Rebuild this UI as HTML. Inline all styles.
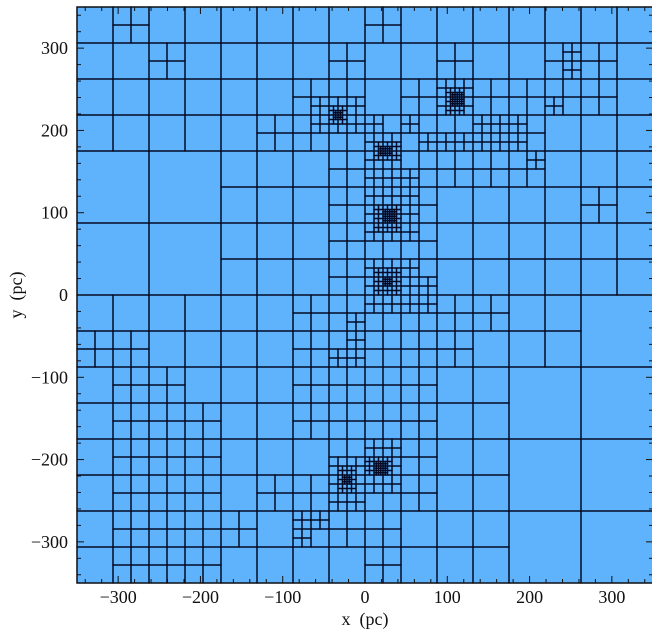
<!DOCTYPE html>
<html>
<head>
<meta charset="utf-8">
<style>
  html,body{margin:0;padding:0;background:#fff;}
  svg{display:block;}
  text{font-family:"Liberation Serif","DejaVu Serif",serif;font-size:18px;fill:#111;}
</style>
</head>
<body>
<svg id="chart" width="652" height="636" viewBox="0 0 652 636" xmlns="http://www.w3.org/2000/svg">
  <rect x="77" y="7" width="576" height="576" fill="#5fb3fd"/>
  <g id="cells"></g>
  <g id="axes"></g>
  <text x="365" y="625" text-anchor="middle" xml:space="preserve">x  (pc)</text>
  <text x="22" y="295" text-anchor="middle" transform="rotate(-90 22 295)" xml:space="preserve">y  (pc)</text>
</svg>
<script>
// ---- data ----
const xTicks = [-300, -200, -100, 0, 100, 200, 300];
const yTicks = [-300, -200, -100, 0, 100, 200, 300];
const domainMin = -350;
const domainMax = 350;
// level-3 cells left unrefined (a point inside each)
const coarseX = [-306, -219, -306, -219, 306, 219, 306, 219, 306, 219, 306];
const coarseY = [131, 131, 44, 44, -44, -131, -131, -219, -219, -306, -306];
// level-5 refinement regions [x0, x1, y0, y1]
const level5Regions = [
  [-306,-262.5,306,350],[-262.5,-219,262.5,306],[-131,-87.5,175,219],[-87.5,0,175,262.5],
  [-44,0,262.5,306],[0,44,306,350],[-44,219,131,219],[-44,87.5,0,131],
  [219,306,219,306],[175,219,219,262.5],[44,175,219,262.5],[87.5,131,262.5,306],
  [262.5,306,87.5,131],[-87.5,131,-87.5,0],[-87.5,87.5,-175,-87.5],
  [-350,-262.5,-87.5,-44],[-306,-219,-131,-87.5],[-306,-175,-350,-131],[-175,-131,-306,-262.5],
  [-131,-87.5,-262.5,-219],[-87.5,-44,-306,-219],[-44,0,-306,-262.5],[-44,87.5,-262.5,-131],
  [0,44,-350,-262.5],[131,175,-44,0]
];
// level-6 refinement points
const l6X = [-6,61,83,119,136,148,16,27,61,18,39,46,109,122,154,158,192,192,203,225,73,6,70,-6,-16,-16,-16,-28,39,39,-4,-4,-16,-49,-58,244,255,252,6,22,-67,-77];
const l6Y = [198,203,180,185,180,213,160,143,148,136,79,83,194,192,203,182,204,192,170,235,6,6,-6,-28,-39,-61,-79,-81,-192,-203,-237,-249,-258,-270,-280,289,276,267,203,137,-280,-286];
// dense cluster centres (level 8)
const clusterX = [-32, 111, 26, 30, 28, -22, 18];
const clusterY = [219, 238, 175, 96, 16, -224, -210];

// ---- axis functions ----
const X0 = 77, Y0 = 7, W = 576, H = 576;
function sx(v){ return X0 + (v - domainMin) * W / (domainMax - domainMin); }
function sy(v){ return Y0 + (domainMax - v) * H / (domainMax - domainMin); }

const NS = "http://www.w3.org/2000/svg";
const cellsG = document.getElementById("cells");
const axesG = document.getElementById("axes");
const eps = 2;

function inside(px, py, x0, x1, y0, y1, m){
  return px > x0 - m && px < x1 + m && py > y0 - m && py < y1 + m;
}
function shouldSplit(x0, x1, y0, y1, level){
  if (level < 3) return true;
  const size = x1 - x0;
  if (level === 3){
    for (let i = 0; i < coarseX.length; i++){
      if (inside(coarseX[i], coarseY[i], x0, x1, y0, y1, 0)) return false;
    }
    return true;
  }
  if (level === 4){
    for (const r of level5Regions){
      if (x0 < r[1] - eps && x1 > r[0] + eps && y0 < r[3] - eps && y1 > r[2] + eps) return true;
    }
  }
  if (level <= 5){
    for (let i = 0; i < l6X.length; i++){
      if (inside(l6X[i], l6Y[i], x0, x1, y0, y1, 0)) return true;
    }
  }
  if (level <= 7){
    for (let i = 0; i < clusterX.length; i++){
      const m = level >= 5 ? size * 0.8 : 0;
      if (inside(clusterX[i], clusterY[i], x0, x1, y0, y1, m)) return true;
    }
  }
  return false;
}
function build(x0, x1, y0, y1, level){
  if (shouldSplit(x0, x1, y0, y1, level)){
    const xm = (x0 + x1) / 2, ym = (y0 + y1) / 2;
    build(x0, xm, y0, ym, level + 1);
    build(xm, x1, y0, ym, level + 1);
    build(x0, xm, ym, y1, level + 1);
    build(xm, x1, ym, y1, level + 1);
  } else {
    const r = document.createElementNS(NS, "rect");
    r.setAttribute("x", sx(x0));
    r.setAttribute("y", sy(y1));
    r.setAttribute("width", sx(x1) - sx(x0));
    r.setAttribute("height", sy(y0) - sy(y1));
    r.setAttribute("fill", "none");
    r.setAttribute("stroke", "#050b26");
    r.setAttribute("stroke-width", "1.3");
    
    
    cellsG.appendChild(r);
  }
}
build(domainMin, domainMax, domainMin, domainMax, 0);

// ---- axes ----
function line(x1, y1, x2, y2, w){
  const l = document.createElementNS(NS, "line");
  l.setAttribute("x1", x1); l.setAttribute("y1", y1);
  l.setAttribute("x2", x2); l.setAttribute("y2", y2);
  l.setAttribute("stroke", "#111"); l.setAttribute("stroke-width", w);
  
  
  axesG.appendChild(l);
}
for (let v = -340; v <= 340; v += 20){
  const major = (v % 100 === 0);
  const len = major ? 7 : 4;
  const px = sx(v), py = sy(v);
  line(px, Y0 + H, px, Y0 + H - len, 1);
  line(px, Y0, px, Y0 + len, 1);
  line(X0, py, X0 + len, py, 1);
  line(X0 + W, py, X0 + W - len, py, 1);
}
const frame = document.createElementNS(NS, "rect");
frame.setAttribute("x", X0); frame.setAttribute("y", Y0);
frame.setAttribute("width", W); frame.setAttribute("height", H);
frame.setAttribute("fill", "none"); frame.setAttribute("stroke", "#111"); frame.setAttribute("stroke-width", "1.3");


axesG.appendChild(frame);

for (const t of xTicks){
  const tx = document.createElementNS(NS, "text");
  tx.setAttribute("x", sx(t)); tx.setAttribute("y", 603);
  tx.setAttribute("text-anchor", "middle");
  tx.textContent = (t < 0 ? "\u2212" + Math.abs(t) : String(t));
  
  
  axesG.appendChild(tx);
}
for (const t of yTicks){
  const ty = document.createElementNS(NS, "text");
  ty.setAttribute("x", 68); ty.setAttribute("y", sy(t) + 6);
  ty.setAttribute("text-anchor", "end");
  ty.textContent = (t < 0 ? "\u2212" + Math.abs(t) : String(t));
  
  
  axesG.appendChild(ty);
}
</script>
</body>
</html>
